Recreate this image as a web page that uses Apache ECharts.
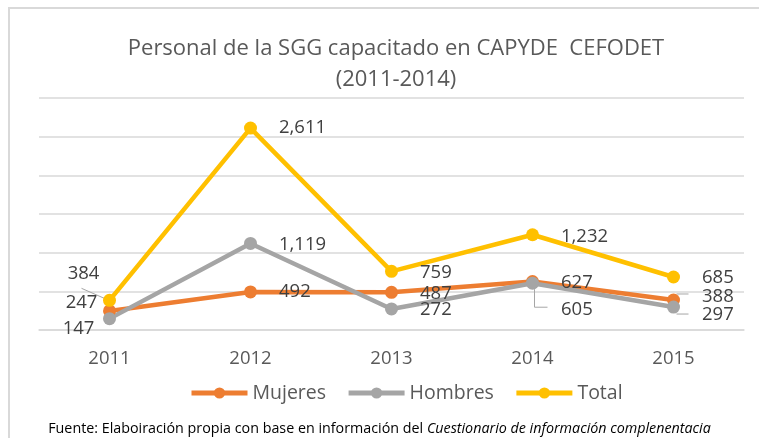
<!DOCTYPE html>
<html>
<head>
<meta charset="utf-8">
<script src="https://cdn.jsdelivr.net/npm/echarts@6/dist/echarts.min.js"></script>
<style>html,body{margin:0;padding:0;background:#fff}#c{width:759px;height:438px}</style>
</head>
<body>
<div id="c"></div>
<script>
const categories = ['2011', '2012', '2013', '2014', '2015'];
const mujeres = [247, 492, 487, 627, 388];
const hombres = [147, 1119, 272, 605, 297];
const total = [384, 2611, 759, 1232, 685];
const yTicks = [0, 500, 1000, 1500, 2000, 2500, 3000];

const FONT = 'Open Sans';
const LABEL_SIZE = 18.5;

// label placement per point: [mode, dx, dy]; 'r' = right of point, 'c' = centred offset
const mujLab = [['c', -28, -8], ['r', 0, 0], ['r', 0, 1], ['r', 0, 1], ['r', 0, -3]];
const homLab = [['c', -31, 10], ['r', 0, 1], ['r', 0, 1], ['r', 0, 27], ['r', 0, 8]];
const totLab = [['c', -26, -27], ['r', 0, 0], ['r', 0, 1], ['r', 0, 2], ['r', 0, 1]];

// leader lines: [seriesIndex, dataIndex, polyline offsets relative to the point]
const leaders = [
  [2, 0, [[-28, -12], [-3, -1]]],
  [1, 3, [[2, 6], [2, 24], [15, 24]]],
  [0, 4, [[3, -6], [15, -6]]],
  [1, 4, [[3, 7], [15, 7]]]
];

function fmt(v) { return v.toLocaleString('en-US'); }

function buildData(vals, labs) {
  return vals.map((v, i) => {
    const [m, dx, dy] = labs[i];
    const label = m === 'r'
      ? { position: 'right', distance: 22, offset: [dx, dy] }
      : { position: 'inside', offset: [dx, dy], align: 'center', verticalAlign: 'middle' };
    return { value: v, label };
  });
}

function series(name, color, vals, labs) {
  return {
    name, type: 'line', data: buildData(vals, labs),
    symbol: 'circle', symbolSize: 13,
    lineStyle: { color, width: 4.5 },
    itemStyle: { color },
    label: {
      show: true, formatter: p => fmt(p.value),
      fontFamily: FONT, fontSize: LABEL_SIZE, color: '#404040'
    },
    emphasis: { disabled: true },
    animation: false
  };
}

const allVals = [mujeres, hombres, total];
const chart = echarts.init(document.getElementById('c'));
const option = {
  backgroundColor: '#fff',
  title: {
    text: 'Personal de la SGG capacitado en CAPYDE  CEFODET\n(2011-2014)',
    left: 391, textAlign: 'center', top: 28,
    textStyle: { fontFamily: FONT, fontSize: 22, fontWeight: 'normal', color: '#595959', lineHeight: 31 }
  },
  legend: {
    bottom: 30, left: 184,
    itemWidth: 56, itemHeight: 14, itemGap: 20,
    lineStyle: { width: 5 },
    textStyle: { fontFamily: FONT, fontSize: 19.5, color: '#595959' },
    data: ['Mujeres', 'Hombres', 'Total']
  },
  grid: { left: 39, right: 15, top: 98, bottom: 108 },
  xAxis: {
    type: 'category', data: categories, boundaryGap: true,
    axisLine: { lineStyle: { color: '#D9D9D9', width: 1.5 } },
    axisTick: { show: false },
    axisLabel: { fontFamily: FONT, fontSize: 18.5, color: '#595959', margin: 19 }
  },
  yAxis: {
    type: 'value', min: yTicks[0], max: yTicks[yTicks.length - 1], interval: yTicks[1] - yTicks[0],
    axisLabel: { show: false }, axisLine: { show: false }, axisTick: { show: false },
    splitLine: { lineStyle: { color: '#D9D9D9', width: 1.5 } }
  },
  series: [
    series('Mujeres', '#ED7D31', mujeres, mujLab),
    series('Hombres', '#A5A5A5', hombres, homLab),
    series('Total', '#FFC000', total, totLab)
  ],
  graphic: [
    { type: 'rect', shape: { x: 9, y: 8, width: 770, height: 460 }, style: { fill: 'none', stroke: '#D9D9D9', lineWidth: 2 }, silent: true },
    { type: 'text', left: 'center', top: 422,
      style: {
        text: '{n|Fuente: Elaboiración propia con base en información del }{i|Cuestionario de información complenentacia}',
        rich: {
          n: { fontFamily: FONT, fontSize: 14.3, fill: '#000' },
          i: { fontFamily: FONT, fontSize: 14.3, fontStyle: 'italic', fill: '#000' }
        }
      }
    }
  ]
};
chart.setOption(option);

// leader lines anchored on the data points via the chart's own scales
const leaderGraphics = leaders.map(([s, i, pts]) => {
  const p = chart.convertToPixel({ seriesIndex: s }, [i, allVals[s][i]]);
  return {
    type: 'polyline', silent: true, z: 1,
    shape: { points: pts.map(([dx, dy]) => [p[0] + dx, p[1] + dy]) },
    style: { stroke: '#A6A6A6', lineWidth: 1, fill: null }
  };
});
chart.setOption({ graphic: option.graphic.concat(leaderGraphics) }, { replaceMerge: ['graphic'] });
</script>
</body>
</html>
